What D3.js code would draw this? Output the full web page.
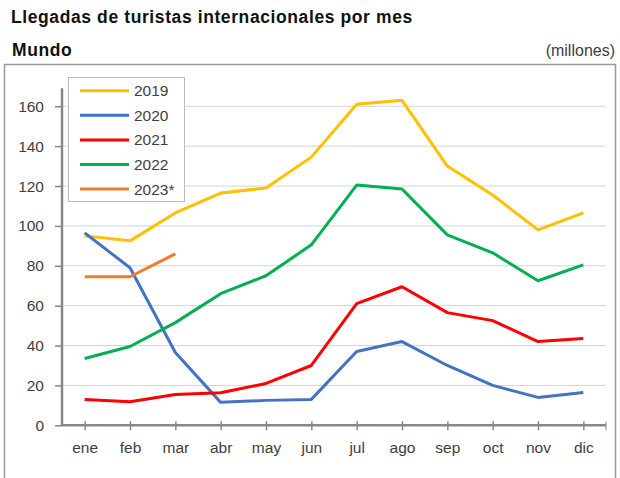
<!DOCTYPE html>
<html>
<head>
<meta charset="utf-8">
<script src="https://cdn.jsdelivr.net/npm/d3@7"></script>
<style>
  body { margin: 0; background: #fff; }
  svg { font-family: "Liberation Sans", Arial, sans-serif; }
</style>
</head>
<body>
<div id="frame"></div>
<script>
// data
let months = ['ene', 'feb', 'mar', 'abr', 'may', 'jun', 'jul', 'ago', 'sep', 'oct', 'nov', 'dic'];
let years = ['2019', '2020', '2021', '2022', '2023*'];
let colors = ['#FFC000', '#4472C4', '#FF0000', '#00B050', '#ED7D31'];
let v2019 = [95, 92.5, 106.5, 116.5, 119, 134.5, 161, 163, 130, 115.5, 98, 106.5];
let v2020 = [96.5, 79, 36.5, 11.5, 12.5, 13, 37, 42, 30, 20, 14, 16.5];
let v2021 = [13, 11.8, 15.5, 16.3, 21, 30, 61, 69.5, 56.5, 52.5, 42, 43.5];
let v2022 = [33.5, 39.5, 51.5, 66, 75, 90.5, 120.5, 118.5, 95.5, 86.5, 72.5, 80.5];
let v2023 = [74.5, 74.5, 86];
let yTicks = [0, 20, 40, 60, 80, 100, 120, 140, 160];

let series = [v2019, v2020, v2021, v2022, v2023];

let W = 620, H = 478;
let svg = d3.select('#frame').append('svg')
    .attr('width', W).attr('height', H);

// titles
svg.append('text')
    .attr('x', 11).attr('y', 23)
    .style('font-size', '17.5px').style('font-weight', 'bold')
    .style('letter-spacing', '0.6px').style('fill', '#111')
    .text('Llegadas de turistas internacionales por mes');
svg.append('text')
    .attr('x', 12).attr('y', 56)
    .style('font-size', '17.5px').style('font-weight', 'bold')
    .style('letter-spacing', '0.6px').style('fill', '#111')
    .text('Mundo');
svg.append('text')
    .attr('x', 615).attr('y', 56)
    .attr('text-anchor', 'end')
    .style('font-size', '16px').style('fill', '#404040')
    .text('(millones)');

// outer box
svg.append('rect')
    .attr('x', 4.5).attr('y', 64.5)
    .attr('width', 611).attr('height', 430)
    .style('fill', 'none').style('stroke', '#999').style('stroke-width', 1.5);

// scales
let x = d3.scalePoint().domain(months).range([62, 606]).padding(0.5);
let y = d3.scaleLinear().domain([0, 180]).range([425.3, 66.4]);

// gridlines
svg.append('g')
    .selectAll('line')
    .data(yTicks.filter(d => d > 0))
    .enter().append('line')
    .attr('x1', 62).attr('x2', 606)
    .attr('y1', d => y(d)).attr('y2', d => y(d))
    .style('stroke', '#d4d4d4').style('stroke-width', 1);

// y axis
let yAxis = svg.append('g')
    .attr('transform', 'translate(62,0)')
    .call(d3.axisLeft(y).tickValues(yTicks).tickSize(7).tickPadding(11));
yAxis.select('.domain').attr('d', 'M0,' + y(0) + 'V' + y(169));

// x axis
let xAxis = svg.append('g')
    .attr('transform', 'translate(0,' + y(0) + ')')
    .call(d3.axisBottom(x).tickSizeInner(5).tickSizeOuter(0).tickPadding(12));
xAxis.select('.domain').attr('d', 'M62,0H606');
xAxis.selectAll('.tick line').attr('y1', -4).attr('y2', 5);
xAxis.append('line')
    .attr('x1', 606).attr('x2', 606).attr('y1', -4).attr('y2', 5)
    .style('stroke', '#888');

[yAxis, xAxis].forEach(a => {
    a.selectAll('.domain').style('stroke', '#888').style('stroke-width', 2.5);
    a.selectAll('.tick line').style('stroke', '#888').style('stroke-width', 1.5);
    a.selectAll('text')
        .style('font-size', '15.5px')
        .style('font-family', '"Liberation Sans", Arial, sans-serif')
        .style('fill', '#404040');
});

// lines
let line = d3.line()
    .x((d, i) => x(months[i]))
    .y(d => y(d));

series.forEach((s, i) => {
    svg.append('path')
        .datum(s)
        .attr('d', line)
        .style('fill', 'none')
        .style('stroke', colors[i])
        .style('stroke-width', 3)
        .style('stroke-linejoin', 'round');
});

// legend
let legend = svg.append('g');
legend.append('rect')
    .attr('x', 68.5).attr('y', 77.5)
    .attr('width', 116).attr('height', 124)
    .style('fill', '#fff').style('stroke', '#bbb').style('stroke-width', 1);
years.forEach((yr, i) => {
    let yy = 90.7 + i * 24.6;
    legend.append('line')
        .attr('x1', 80).attr('x2', 129)
        .attr('y1', yy).attr('y2', yy)
        .style('stroke', colors[i]).style('stroke-width', 3);
    legend.append('text')
        .attr('x', 134).attr('y', yy + 5.5)
        .style('font-size', '15.5px').style('fill', '#404040')
        .text(yr);
});
</script>
</body>
</html>
